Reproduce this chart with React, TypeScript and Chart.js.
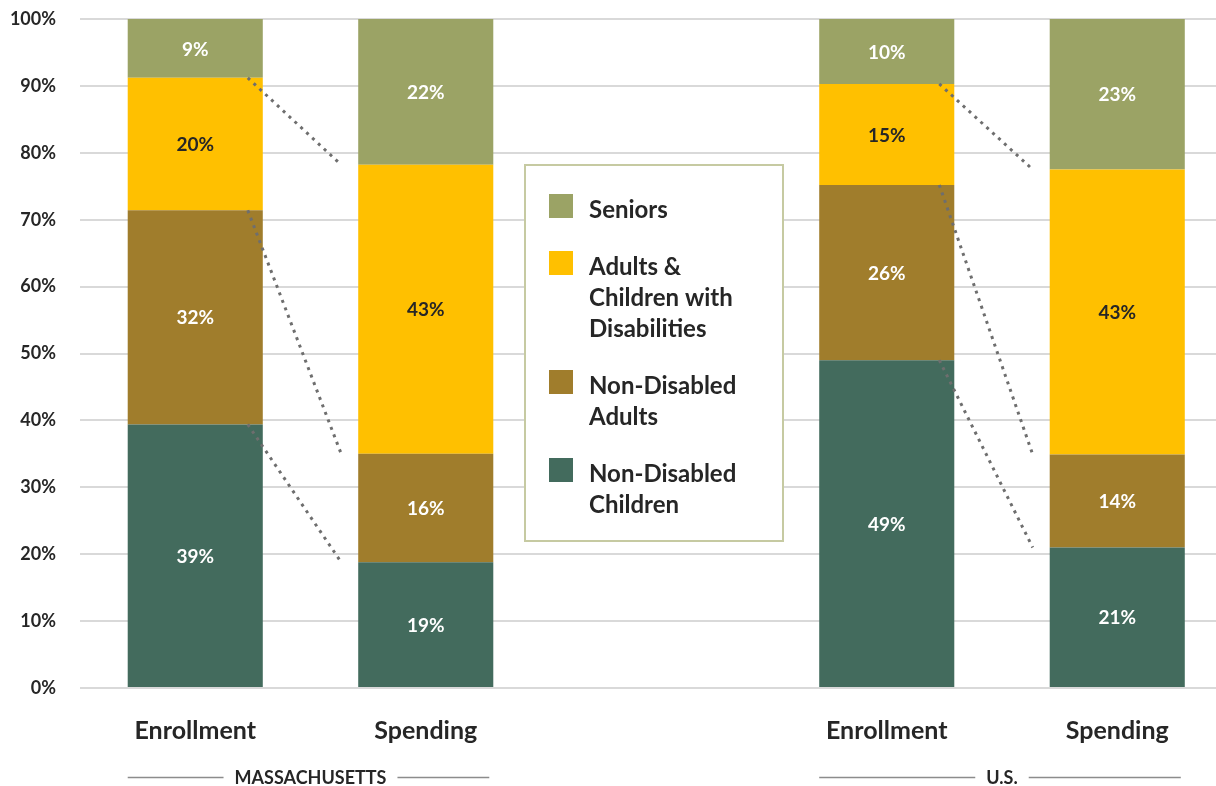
import React, { useEffect, useRef } from "react";
import { Chart, registerables } from "chart.js";

Chart.register(...registerables);

const categories = ["Enrollment", "Spending", "", "Enrollment", "Spending"];
const nonDisabledChildren = [39.4, 18.8, null, 49.0, 21.0];
const nonDisabledAdults = [32.0, 16.2, null, 26.2, 13.9];
const withDisabilities = [19.8, 43.2, null, 15.1, 42.6];
const seniors = [8.8, 21.8, null, 9.7, 22.5];

const groupNames = ["MASSACHUSETTS", "U.S."];
const groupMembers = [
  [0, 1],
  [3, 4],
];
const yTicks = [0, 10, 20, 30, 40, 50, 60, 70, 80, 90, 100];

const legendItems = [
  { lines: ["Seniors"], color: "#9BA365" },
  { lines: ["Adults &", "Children with", "Disabilities"], color: "#FFC000" },
  { lines: ["Non-Disabled", "Adults"], color: "#A07D2C" },
  { lines: ["Non-Disabled", "Children"], color: "#436B5D" },
];

const FONT = "Lato, 'Open Sans', sans-serif";
const TEXT = "#262626";

const dataLabelPlugin = {
  id: "dataLabels",
  afterDatasetsDraw(chart: any) {
    const ctx = chart.ctx;
    ctx.save();
    ctx.font = `bold 19px ${FONT}`;
    ctx.textAlign = "center";
    ctx.textBaseline = "middle";
    chart.data.datasets.forEach((ds: any, i: number) => {
      const meta = chart.getDatasetMeta(i);
      meta.data.forEach((bar: any, j: number) => {
        const v = ds.data[j];
        if (v == null) return;
        const p = bar.getProps(["x", "y", "base"], true);
        ctx.fillStyle = ds.labelColor;
        ctx.fillText(Math.round(v) + "%", p.x, (p.y + p.base) / 2 + 1);
      });
    });
    ctx.restore();
  },
};

const connectorPlugin = {
  id: "connectors",
  afterDatasetsDraw(chart: any) {
    const ctx = chart.ctx;
    const y = chart.scales.y;
    const metaFirst = chart.getDatasetMeta(0);
    const series = chart.data.datasets.map((d: any) => d.data);
    ctx.save();
    ctx.strokeStyle = "#6E6E6E";
    ctx.lineWidth = 3;
    ctx.setLineDash([3, 5]);
    groupMembers.forEach(([a, b]) => {
      const barA = metaFirst.data[a].getProps(["x", "width"], true);
      const barB = metaFirst.data[b].getProps(["x", "width"], true);
      const xa = barA.x + barA.width / 2 - 15;
      const xb = barB.x - barB.width / 2 - 17;
      let cumA = 0;
      let cumB = 0;
      for (let k = 0; k < series.length - 1; k++) {
        cumA += series[k][a];
        cumB += series[k][b];
        ctx.beginPath();
        ctx.moveTo(xa, y.getPixelForValue(cumA));
        ctx.lineTo(xb, y.getPixelForValue(cumB));
        ctx.stroke();
      }
    });
    ctx.restore();
  },
};

const groupLabelPlugin = {
  id: "groupLabels",
  afterDraw(chart: any) {
    const ctx = chart.ctx;
    const meta = chart.getDatasetMeta(0);
    const yPos = 777.5;
    ctx.save();
    ctx.font = `bold 18px ${FONT}`;
    ctx.textAlign = "center";
    ctx.textBaseline = "middle";
    groupNames.forEach((name, g) => {
      const [a, b] = groupMembers[g];
      const pa = meta.data[a].getProps(["x", "width"], true);
      const pb = meta.data[b].getProps(["x", "width"], true);
      const left = pa.x - pa.width / 2;
      const right = pb.x + pb.width / 2 - 4;
      const mid = (pa.x + pb.x) / 2;
      const tw = ctx.measureText(name).width;
      ctx.strokeStyle = "#8C8C8C";
      ctx.lineWidth = 1.5;
      ctx.beginPath();
      ctx.moveTo(left, yPos);
      ctx.lineTo(mid - tw / 2 - 11, yPos);
      ctx.moveTo(mid + tw / 2 + 11, yPos);
      ctx.lineTo(right, yPos);
      ctx.stroke();
      ctx.fillStyle = TEXT;
      ctx.fillText(name, mid, yPos + 1);
    });
    ctx.restore();
  },
};

const legendPlugin = {
  id: "boxLegend",
  afterDraw(chart: any) {
    const ctx = chart.ctx;
    ctx.save();
    ctx.fillStyle = "#FFFFFF";
    ctx.fillRect(525, 165, 258, 376);
    ctx.strokeStyle = "#C6CAA2";
    ctx.lineWidth = 2;
    ctx.strokeRect(525, 165, 258, 376);
    ctx.font = `bold 24px ${FONT}`;
    ctx.textAlign = "left";
    ctx.textBaseline = "middle";
    let lineY = 209;
    legendItems.forEach((item) => {
      ctx.fillStyle = item.color;
      ctx.fillRect(549, lineY - 15, 24, 24);
      ctx.fillStyle = TEXT;
      item.lines.forEach((ln, i) => {
        ctx.fillText(ln, 589, lineY + 1);
        if (i < item.lines.length - 1) lineY += 31;
      });
      lineY += 57;
    });
    ctx.restore();
  },
};

export default function App() {
  const ref = useRef<HTMLCanvasElement>(null);
  useEffect(() => {
    document.documentElement.style.overflow = "hidden";
    document.body.style.margin = "0";
    const chart = new Chart(ref.current as HTMLCanvasElement, {
      type: "bar",
      data: {
        labels: categories,
        datasets: [
          { label: "Non-Disabled Children", data: nonDisabledChildren, backgroundColor: "#436B5D", labelColor: "#FFFFFF" } as any,
          { label: "Non-Disabled Adults", data: nonDisabledAdults, backgroundColor: "#A07D2C", labelColor: "#FFFFFF" } as any,
          { label: "Adults & Children with Disabilities", data: withDisabilities, backgroundColor: "#FFC000", labelColor: TEXT } as any,
          { label: "Seniors", data: seniors, backgroundColor: "#9BA365", labelColor: "#FFFFFF" } as any,
        ],
      },
      options: {
        animation: false,
        responsive: false,
        devicePixelRatio: 1,
        layout: { padding: { top: 19, right: 7.5, left: 0, bottom: 0 } },
        datasets: { bar: { barPercentage: 1, categoryPercentage: 0.586 } },
        plugins: {
          legend: { display: false },
          tooltip: { enabled: false },
        },
        scales: {
          x: {
            stacked: true,
            grid: { display: false },
            border: { display: false },
            ticks: {
              font: { family: FONT, size: 25, weight: "bold" },
              color: TEXT,
              padding: 20,
              maxRotation: 0,
              autoSkip: false,
            },
            afterFit(scale: any) {
              scale.height = 98;
            },
          },
          y: {
            stacked: true,
            min: 0,
            max: 100,
            afterBuildTicks(scale: any) {
              scale.ticks = yTicks.map((v) => ({ value: v }));
            },
            grid: { color: "#D9D9D9", lineWidth: 2, drawTicks: false },
            border: { display: false },
            ticks: {
              font: { family: FONT, size: 18, weight: "bold" },
              color: TEXT,
              padding: 24,
              callback: (v: any) => v + "%",
            },
            afterFit(scale: any) {
              scale.width = 80;
              scale.paddingTop = 0;
              scale.paddingBottom = 0;
            },
          },
        },
      } as any,
      plugins: [connectorPlugin, dataLabelPlugin, legendPlugin, groupLabelPlugin],
    });
    return () => chart.destroy();
  }, []);
  return (
    <div style={{ position: "absolute", left: 0, top: 0, width: 1240, height: 786 }}>
      <canvas ref={ref} width={1240} height={786} />
    </div>
  );
}
